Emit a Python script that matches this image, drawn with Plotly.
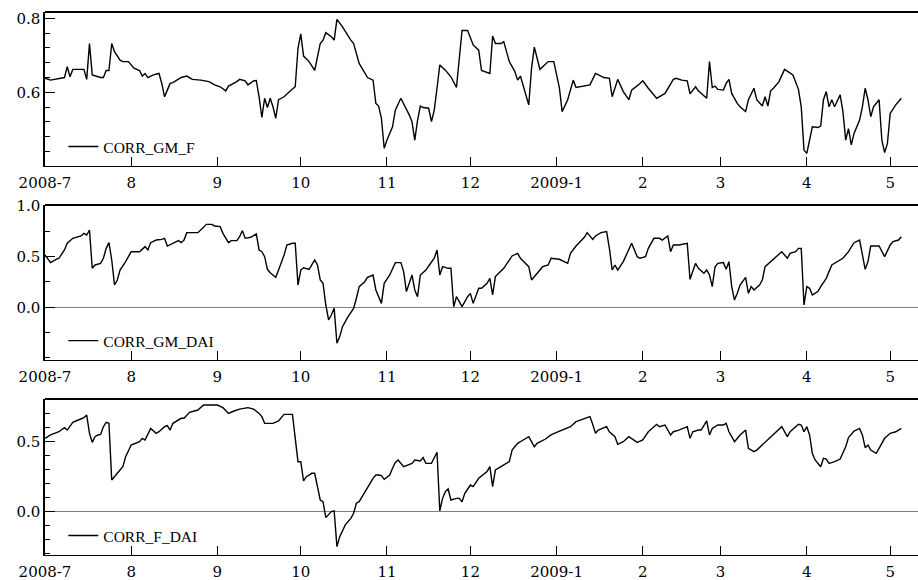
import plotly.graph_objects as go

# ---- series: rolling correlations, July 2008 - May 2009 ----
dates_gm_f = [
    "2008-07-01", "2008-07-03", "2008-07-08", "2008-07-09", "2008-07-10", "2008-07-11", "2008-07-15",
    "2008-07-16", "2008-07-17", "2008-07-18", "2008-07-21", "2008-07-22", "2008-07-23", "2008-07-24",
    "2008-07-25", "2008-07-26", "2008-07-28", "2008-07-29", "2008-07-31", "2008-08-02", "2008-08-04",
    "2008-08-05", "2008-08-06", "2008-08-07", "2008-08-09", "2008-08-11", "2008-08-12", "2008-08-13",
    "2008-08-14", "2008-08-15", "2008-08-16", "2008-08-18", "2008-08-19", "2008-08-21", "2008-08-23",
    "2008-08-26", "2008-08-29", "2008-08-31", "2008-09-02", "2008-09-04", "2008-09-05", "2008-09-08",
    "2008-09-09", "2008-09-11", "2008-09-12", "2008-09-14", "2008-09-15", "2008-09-16", "2008-09-17",
    "2008-09-18", "2008-09-19", "2008-09-20", "2008-09-21", "2008-09-22", "2008-09-23", "2008-09-24",
    "2008-09-25", "2008-09-27", "2008-09-29", "2008-09-30", "2008-10-01", "2008-10-02", "2008-10-04",
    "2008-10-06", "2008-10-08", "2008-10-09", "2008-10-10", "2008-10-12", "2008-10-13", "2008-10-14",
    "2008-10-16", "2008-10-19", "2008-10-20", "2008-10-22", "2008-10-24", "2008-10-25", "2008-10-27",
    "2008-10-28", "2008-10-29", "2008-10-30", "2008-10-31", "2008-11-01", "2008-11-03", "2008-11-04",
    "2008-11-06", "2008-11-07", "2008-11-09", "2008-11-10", "2008-11-11", "2008-11-12", "2008-11-13",
    "2008-11-14", "2008-11-16", "2008-11-17", "2008-11-18", "2008-11-19", "2008-11-20", "2008-11-22",
    "2008-11-24", "2008-11-26", "2008-11-27", "2008-11-28", "2008-11-30", "2008-12-02", "2008-12-04",
    "2008-12-05", "2008-12-08", "2008-12-09", "2008-12-10", "2008-12-12", "2008-12-13", "2008-12-15",
    "2008-12-17", "2008-12-18", "2008-12-19", "2008-12-21", "2008-12-22", "2008-12-23", "2008-12-24",
    "2008-12-25", "2008-12-26", "2008-12-29", "2008-12-31", "2009-01-02", "2009-01-03", "2009-01-05",
    "2009-01-07", "2009-01-08", "2009-01-13", "2009-01-15", "2009-01-18", "2009-01-20", "2009-01-21",
    "2009-01-23", "2009-01-25", "2009-01-27", "2009-01-28", "2009-01-31", "2009-02-01", "2009-02-03",
    "2009-02-06", "2009-02-09", "2009-02-10", "2009-02-12", "2009-02-13", "2009-02-15", "2009-02-17",
    "2009-02-18", "2009-02-20", "2009-02-21", "2009-02-24", "2009-02-25", "2009-02-26", "2009-02-27",
    "2009-02-28", "2009-03-02", "2009-03-03", "2009-03-04", "2009-03-05", "2009-03-07", "2009-03-08",
    "2009-03-10", "2009-03-11", "2009-03-13", "2009-03-14", "2009-03-16", "2009-03-17", "2009-03-18",
    "2009-03-19", "2009-03-20", "2009-03-22", "2009-03-24", "2009-03-27", "2009-03-28", "2009-03-29",
    "2009-03-30", "2009-03-31", "2009-04-01", "2009-04-02", "2009-04-03", "2009-04-05", "2009-04-06",
    "2009-04-07", "2009-04-08", "2009-04-09", "2009-04-10", "2009-04-11", "2009-04-13", "2009-04-14",
    "2009-04-15", "2009-04-16", "2009-04-17", "2009-04-18", "2009-04-20", "2009-04-21", "2009-04-22",
    "2009-04-23", "2009-04-24", "2009-04-25", "2009-04-27", "2009-04-28", "2009-04-29", "2009-04-30",
    "2009-05-01", "2009-05-03", "2009-05-05",
]
corr_gm_f = [
    0.638, 0.633, 0.640, 0.669, 0.642, 0.662, 0.662,
    0.635, 0.732, 0.647, 0.640, 0.640, 0.659, 0.659,
    0.732, 0.710, 0.687, 0.683, 0.683, 0.665, 0.659,
    0.644, 0.651, 0.640, 0.647, 0.651, 0.624, 0.588,
    0.606, 0.624, 0.626, 0.635, 0.640, 0.644, 0.635,
    0.633, 0.629, 0.620, 0.615, 0.604, 0.617, 0.629,
    0.635, 0.631, 0.620, 0.631, 0.632, 0.588, 0.532,
    0.584, 0.559, 0.584, 0.561, 0.530, 0.580, 0.584,
    0.588, 0.602, 0.615, 0.719, 0.758, 0.698, 0.683,
    0.659, 0.732, 0.741, 0.761, 0.750, 0.741, 0.797,
    0.777, 0.741, 0.732, 0.678, 0.650, 0.640, 0.633,
    0.570, 0.563, 0.530, 0.449, 0.471, 0.507, 0.552,
    0.584, 0.570, 0.539, 0.521, 0.471, 0.524, 0.563,
    0.559, 0.557, 0.521, 0.552, 0.611, 0.674, 0.660,
    0.642, 0.613, 0.692, 0.767, 0.767, 0.728, 0.714,
    0.659, 0.651, 0.752, 0.732, 0.732, 0.737, 0.683,
    0.656, 0.633, 0.644, 0.593, 0.566, 0.665, 0.722,
    0.692, 0.662, 0.683, 0.683, 0.613, 0.548, 0.580,
    0.633, 0.613, 0.620, 0.651, 0.640, 0.638, 0.588,
    0.635, 0.602, 0.580, 0.606, 0.624, 0.631, 0.611,
    0.584, 0.597, 0.611, 0.635, 0.638, 0.633, 0.631,
    0.596, 0.615, 0.604, 0.584, 0.683, 0.613, 0.617,
    0.608, 0.606, 0.624, 0.635, 0.597, 0.570, 0.561,
    0.548, 0.580, 0.611, 0.580, 0.563, 0.588, 0.563,
    0.604, 0.611, 0.629, 0.662, 0.647, 0.629, 0.608,
    0.561, 0.444, 0.435, 0.476, 0.507, 0.505, 0.509,
    0.580, 0.602, 0.561, 0.580, 0.561, 0.593, 0.548,
    0.471, 0.502, 0.458, 0.489, 0.525, 0.561, 0.611,
    0.580, 0.534, 0.561, 0.580, 0.471, 0.437, 0.462,
    0.543, 0.566, 0.584,
]

dates_gm_dai = [
    "2008-07-01", "2008-07-02", "2008-07-03", "2008-07-05", "2008-07-06", "2008-07-08", "2008-07-09",
    "2008-07-11", "2008-07-14", "2008-07-15", "2008-07-16", "2008-07-17", "2008-07-18", "2008-07-19",
    "2008-07-21", "2008-07-22", "2008-07-23", "2008-07-24", "2008-07-25", "2008-07-26", "2008-07-27",
    "2008-07-28", "2008-07-30", "2008-08-01", "2008-08-04", "2008-08-06", "2008-08-07", "2008-08-08",
    "2008-08-10", "2008-08-12", "2008-08-13", "2008-08-14", "2008-08-16", "2008-08-18", "2008-08-19",
    "2008-08-20", "2008-08-21", "2008-08-25", "2008-08-27", "2008-08-28", "2008-08-30", "2008-08-31",
    "2008-09-02", "2008-09-03", "2008-09-05", "2008-09-06", "2008-09-08", "2008-09-09", "2008-09-10",
    "2008-09-11", "2008-09-13", "2008-09-15", "2008-09-16", "2008-09-17", "2008-09-18", "2008-09-19",
    "2008-09-20", "2008-09-22", "2008-09-23", "2008-09-25", "2008-09-26", "2008-09-28", "2008-09-29",
    "2008-09-30", "2008-10-01", "2008-10-02", "2008-10-04", "2008-10-06", "2008-10-07", "2008-10-08",
    "2008-10-09", "2008-10-10", "2008-10-11", "2008-10-12", "2008-10-13", "2008-10-14", "2008-10-15",
    "2008-10-16", "2008-10-18", "2008-10-20", "2008-10-21", "2008-10-22", "2008-10-24", "2008-10-25",
    "2008-10-27", "2008-10-28", "2008-10-30", "2008-10-31", "2008-11-02", "2008-11-04", "2008-11-06",
    "2008-11-07", "2008-11-08", "2008-11-09", "2008-11-10", "2008-11-11", "2008-11-12", "2008-11-13",
    "2008-11-15", "2008-11-16", "2008-11-18", "2008-11-19", "2008-11-20", "2008-11-21", "2008-11-23",
    "2008-11-24", "2008-11-25", "2008-11-26", "2008-11-27", "2008-11-28", "2008-11-30", "2008-12-01",
    "2008-12-02", "2008-12-04", "2008-12-05", "2008-12-07", "2008-12-08", "2008-12-09", "2008-12-10",
    "2008-12-12", "2008-12-13", "2008-12-16", "2008-12-18", "2008-12-19", "2008-12-21", "2008-12-22",
    "2008-12-23", "2008-12-25", "2008-12-27", "2008-12-29", "2008-12-30", "2009-01-02", "2009-01-05",
    "2009-01-06", "2009-01-08", "2009-01-11", "2009-01-12", "2009-01-14", "2009-01-15", "2009-01-17",
    "2009-01-19", "2009-01-20", "2009-01-21", "2009-01-22", "2009-01-23", "2009-01-25", "2009-01-27",
    "2009-01-28", "2009-01-30", "2009-01-31", "2009-02-02", "2009-02-03", "2009-02-05", "2009-02-07",
    "2009-02-08", "2009-02-10", "2009-02-11", "2009-02-12", "2009-02-14", "2009-02-17", "2009-02-18",
    "2009-02-19", "2009-02-20", "2009-02-21", "2009-02-23", "2009-02-24", "2009-02-25", "2009-02-26",
    "2009-02-27", "2009-02-28", "2009-03-02", "2009-03-03", "2009-03-04", "2009-03-05", "2009-03-06",
    "2009-03-07", "2009-03-08", "2009-03-10", "2009-03-11", "2009-03-12", "2009-03-13", "2009-03-15",
    "2009-03-16", "2009-03-17", "2009-03-19", "2009-03-20", "2009-03-23", "2009-03-25", "2009-03-26",
    "2009-03-28", "2009-03-29", "2009-03-30", "2009-03-31", "2009-04-01", "2009-04-02", "2009-04-03",
    "2009-04-05", "2009-04-06", "2009-04-08", "2009-04-10", "2009-04-12", "2009-04-14", "2009-04-16",
    "2009-04-18", "2009-04-20", "2009-04-21", "2009-04-22", "2009-04-23", "2009-04-24", "2009-04-27",
    "2009-04-29", "2009-05-01", "2009-05-02", "2009-05-04", "2009-05-05",
]
corr_gm_dai = [
    0.516, 0.484, 0.441, 0.474, 0.484, 0.566, 0.632,
    0.681, 0.704, 0.730, 0.714, 0.763, 0.385, 0.418,
    0.434, 0.484, 0.582, 0.638, 0.467, 0.220, 0.270,
    0.368, 0.451, 0.549, 0.549, 0.599, 0.566, 0.638,
    0.664, 0.671, 0.681, 0.605, 0.632, 0.658, 0.638,
    0.664, 0.737, 0.737, 0.789, 0.819, 0.819, 0.803,
    0.796, 0.730, 0.638, 0.658, 0.658, 0.697, 0.757,
    0.681, 0.691, 0.724, 0.566, 0.549, 0.500, 0.375,
    0.342, 0.296, 0.368, 0.516, 0.615, 0.632, 0.632,
    0.220, 0.368, 0.390, 0.375, 0.467, 0.418, 0.270,
    0.237, 0.023, -0.125, -0.076, -0.010, -0.355, -0.289,
    -0.191, -0.092, -0.010, 0.089, 0.204, 0.253, 0.296,
    0.319, 0.171, 0.039, 0.237, 0.319, 0.441, 0.441,
    0.352, 0.155, 0.237, 0.319, 0.171, 0.105, 0.319,
    0.368, 0.408, 0.484, 0.566, 0.319, 0.401, 0.385,
    0.385, 0.005, 0.105, 0.056, 0.007, 0.105, 0.138,
    0.039, 0.188, 0.188, 0.237, 0.286, 0.122, 0.303,
    0.362, 0.385, 0.507, 0.533, 0.484, 0.428, 0.401,
    0.270, 0.336, 0.401, 0.418, 0.484, 0.474, 0.434,
    0.533, 0.605, 0.691, 0.737, 0.671, 0.704, 0.737,
    0.747, 0.582, 0.368, 0.418, 0.368, 0.451, 0.582,
    0.632, 0.500, 0.484, 0.500, 0.582, 0.681, 0.681,
    0.664, 0.704, 0.549, 0.615, 0.615, 0.632, 0.276,
    0.352, 0.434, 0.385, 0.336, 0.368, 0.319, 0.204,
    0.401, 0.434, 0.441, 0.375, 0.451, 0.204, 0.072,
    0.138, 0.220, 0.296, 0.138, 0.204, 0.171, 0.220,
    0.270, 0.401, 0.451, 0.467, 0.549, 0.484, 0.533,
    0.549, 0.582, 0.582, 0.023, 0.204, 0.188, 0.122,
    0.155, 0.204, 0.286, 0.418, 0.451, 0.484, 0.549,
    0.638, 0.664, 0.533, 0.375, 0.451, 0.605, 0.605,
    0.500, 0.615, 0.648, 0.664, 0.697,
]

dates_f_dai = [
    "2008-07-01", "2008-07-03", "2008-07-06", "2008-07-08", "2008-07-09", "2008-07-11", "2008-07-13",
    "2008-07-15", "2008-07-16", "2008-07-17", "2008-07-18", "2008-07-19", "2008-07-20", "2008-07-21",
    "2008-07-22", "2008-07-23", "2008-07-24", "2008-07-25", "2008-07-27", "2008-07-29", "2008-07-30",
    "2008-08-01", "2008-08-04", "2008-08-05", "2008-08-06", "2008-08-08", "2008-08-10", "2008-08-11",
    "2008-08-13", "2008-08-14", "2008-08-15", "2008-08-16", "2008-08-19", "2008-08-20", "2008-08-22",
    "2008-08-25", "2008-08-27", "2008-09-01", "2008-09-03", "2008-09-05", "2008-09-07", "2008-09-09",
    "2008-09-12", "2008-09-14", "2008-09-16", "2008-09-17", "2008-09-18", "2008-09-21", "2008-09-23",
    "2008-09-25", "2008-09-28", "2008-09-29", "2008-09-30", "2008-10-01", "2008-10-02", "2008-10-03",
    "2008-10-05", "2008-10-06", "2008-10-07", "2008-10-08", "2008-10-09", "2008-10-10", "2008-10-12",
    "2008-10-13", "2008-10-14", "2008-10-15", "2008-10-17", "2008-10-19", "2008-10-20", "2008-10-21",
    "2008-10-22", "2008-10-24", "2008-10-25", "2008-10-27", "2008-10-28", "2008-10-29", "2008-10-30",
    "2008-10-31", "2008-11-02", "2008-11-03", "2008-11-04", "2008-11-05", "2008-11-07", "2008-11-08",
    "2008-11-10", "2008-11-11", "2008-11-13", "2008-11-14", "2008-11-15", "2008-11-17", "2008-11-19",
    "2008-11-20", "2008-11-21", "2008-11-22", "2008-11-23", "2008-11-24", "2008-11-26", "2008-11-27",
    "2008-11-28", "2008-11-29", "2008-12-01", "2008-12-02", "2008-12-04", "2008-12-07", "2008-12-08",
    "2008-12-09", "2008-12-10", "2008-12-12", "2008-12-15", "2008-12-16", "2008-12-18", "2008-12-20",
    "2008-12-22", "2008-12-24", "2008-12-25", "2008-12-28", "2008-12-30", "2009-01-01", "2009-01-03",
    "2009-01-06", "2009-01-08", "2009-01-11", "2009-01-13", "2009-01-14", "2009-01-15", "2009-01-16",
    "2009-01-18", "2009-01-19", "2009-01-20", "2009-01-22", "2009-01-23", "2009-01-25", "2009-01-27",
    "2009-01-29", "2009-01-30", "2009-02-01", "2009-02-03", "2009-02-06", "2009-02-07", "2009-02-09",
    "2009-02-11", "2009-02-12", "2009-02-14", "2009-02-17", "2009-02-18", "2009-02-19", "2009-02-21",
    "2009-02-22", "2009-02-24", "2009-02-25", "2009-02-26", "2009-02-28", "2009-03-02", "2009-03-03",
    "2009-03-04", "2009-03-05", "2009-03-06", "2009-03-08", "2009-03-10", "2009-03-11", "2009-03-13",
    "2009-03-14", "2009-03-16", "2009-03-18", "2009-03-20", "2009-03-23", "2009-03-25", "2009-03-26",
    "2009-03-28", "2009-03-29", "2009-03-30", "2009-03-31", "2009-04-01", "2009-04-02", "2009-04-03",
    "2009-04-04", "2009-04-06", "2009-04-07", "2009-04-08", "2009-04-09", "2009-04-11", "2009-04-13",
    "2009-04-15", "2009-04-16", "2009-04-18", "2009-04-20", "2009-04-21", "2009-04-22", "2009-04-23",
    "2009-04-24", "2009-04-26", "2009-04-28", "2009-04-29", "2009-05-01", "2009-05-03", "2009-05-05",
]
corr_f_dai = [
    0.524, 0.548, 0.571, 0.600, 0.583, 0.638, 0.655,
    0.671, 0.690, 0.560, 0.495, 0.536, 0.548, 0.552,
    0.607, 0.638, 0.631, 0.226, 0.274, 0.321, 0.393,
    0.476, 0.500, 0.524, 0.512, 0.595, 0.560, 0.571,
    0.607, 0.614, 0.583, 0.631, 0.667, 0.667, 0.710,
    0.726, 0.762, 0.762, 0.743, 0.702, 0.719, 0.733,
    0.743, 0.733, 0.702, 0.679, 0.631, 0.631, 0.648,
    0.695, 0.695, 0.512, 0.357, 0.357, 0.220, 0.250,
    0.274, 0.274, 0.167, 0.083, 0.071, -0.043, 0.000,
    0.005, -0.250, -0.179, -0.095, -0.048, -0.012, 0.060,
    0.071, 0.143, 0.171, 0.238, 0.262, 0.262, 0.257,
    0.231, 0.262, 0.310, 0.352, 0.369, 0.321, 0.329,
    0.345, 0.369, 0.362, 0.386, 0.345, 0.345, 0.424,
    0.005, 0.095, 0.143, 0.162, 0.083, 0.095, 0.095,
    0.071, 0.131, 0.190, 0.179, 0.238, 0.286, 0.321,
    0.179, 0.298, 0.321, 0.357, 0.440, 0.488, 0.512,
    0.536, 0.464, 0.488, 0.519, 0.548, 0.567, 0.583,
    0.607, 0.643, 0.662, 0.679, 0.624, 0.560, 0.583,
    0.600, 0.607, 0.571, 0.536, 0.481, 0.500, 0.536,
    0.512, 0.495, 0.512, 0.571, 0.624, 0.607, 0.619,
    0.548, 0.571, 0.583, 0.607, 0.524, 0.571, 0.583,
    0.583, 0.648, 0.548, 0.595, 0.619, 0.619, 0.631,
    0.571, 0.536, 0.500, 0.548, 0.583, 0.452, 0.429,
    0.440, 0.476, 0.512, 0.548, 0.607, 0.536, 0.571,
    0.607, 0.624, 0.619, 0.571, 0.607, 0.548, 0.417,
    0.369, 0.321, 0.381, 0.376, 0.345, 0.357, 0.376,
    0.464, 0.529, 0.576, 0.595, 0.548, 0.457, 0.476,
    0.440, 0.417, 0.488, 0.524, 0.560, 0.571, 0.595,
]

# ---- axis labelling ----
month_ticks = ["2008-07-01", "2008-08-01", "2008-09-01", "2008-10-01", "2008-11-01", "2008-12-01",
               "2009-01-01", "2009-02-01", "2009-03-01", "2009-04-01", "2009-05-01"]
month_labels = ["2008-7", "8", "9", "10", "11", "12", "2009-1", "2", "3", "4", "5"]
x_span = ["2008-07-01", "2009-05-11"]

panels = [
    # name, dates, values, y range, labelled ticks, minor step, y domain
    ("CORR_GM_F", dates_gm_f, corr_gm_f, [0.401, 0.817], [0.6, 0.8], 0.04, [0.7164, 1.0]),
    ("CORR_GM_DAI", dates_gm_dai, corr_gm_dai, [-0.52, 1.01], [0.0, 0.5, 1.0], 0.25, [0.3591, 0.6446]),
    ("CORR_F_DAI", dates_f_dai, corr_f_dai, [-0.31, 0.805], [0.0, 0.5], 0.1, [0.0, 0.2873]),
]

AXIS_FONT = dict(family="DejaVu Serif", size=15, color="black")
LEGEND_FONT = dict(family="Liberation Serif", size=15.5, color="black")

fig = go.Figure()
layout = dict(
    width=918, height=580,
    margin=dict(l=45, r=0, t=12, b=25),
    paper_bgcolor="white", plot_bgcolor="white",
    showlegend=True,
    shapes=[],
)

for i, (name, xs, ys, yr, yticks, minor_step, ydom) in enumerate(panels, start=1):
    sfx = "" if i == 1 else str(i)
    leg = "legend" if i == 1 else f"legend{i}"
    fig.add_trace(go.Scatter(
        x=xs, y=ys, mode="lines", name=name, showlegend=True,
        line=dict(color="black", width=1.4),
        xaxis=f"x{sfx}", yaxis=f"y{sfx}", legend=leg,
    ))
    layout[f"xaxis{sfx}"] = dict(
        anchor=f"y{sfx}", domain=[0, 1], type="date", range=x_span,
        tickmode="array", tickvals=month_ticks, ticktext=month_labels,
        ticks="inside", ticklen=9, tickwidth=1, tickcolor="black",
        showline=True, linecolor="black", linewidth=1,
        showgrid=False, zeroline=False, tickfont=AXIS_FONT, tickangle=0,
        ticklabelstandoff=3,
    )
    layout[f"yaxis{sfx}"] = dict(
        anchor=f"x{sfx}", domain=ydom, range=yr,
        tickmode="array", tickvals=yticks, ticktext=[f"{v:.1f}" for v in yticks],
        ticks="inside", ticklen=10, tickwidth=1, tickcolor="black",
        minor=dict(tickmode="linear", tick0=0, dtick=minor_step, ticks="inside",
                   ticklen=5, tickwidth=1, tickcolor="black", showgrid=False),
        showline=True, linecolor="black", linewidth=1.5,
        showgrid=False, tickfont=AXIS_FONT,
        zeroline=(yr[0] < 0), zerolinecolor="#808080", zerolinewidth=1,
    )
    # heavier frame edge along the top of each panel
    layout["shapes"].append(dict(
        type="line", xref=f"x{sfx} domain", yref=f"y{sfx} domain",
        x0=0, x1=1, y0=1, y1=1, line=dict(color="black", width=2),
    ))
    layout[leg] = dict(
        x=0.021, y=ydom[0] + 0.035, xanchor="left", yanchor="middle",
        bgcolor="rgba(0,0,0,0)", borderwidth=0, font=LEGEND_FONT,
        tracegroupgap=0,
    )

fig.update_layout(**layout)
fig.write_html("out.html")
